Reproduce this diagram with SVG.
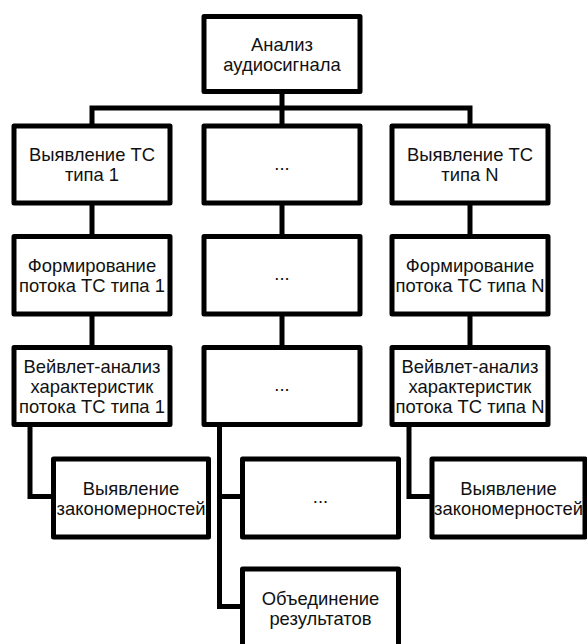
<svg xmlns="http://www.w3.org/2000/svg" width="587" height="644" viewBox="0 0 587 644">
<style>
.box{fill:#fff;stroke:#000;stroke-width:5;stroke-linejoin:round}
.conn{fill:none;stroke:#000;stroke-width:5;stroke-linejoin:miter}
text{font-family:"Liberation Sans",Arial,sans-serif;font-size:18.4px;fill:#111;text-anchor:middle}
</style>
<rect width="587" height="644" fill="#fff"/>
<g id="connectors">
<path class="conn" d="M282 92 V108 M92 126 V108 H470 V126 M282 108 V126"/>
<path class="conn" d="M92 203 V237 M282 203 V237 M470 203 V237"/>
<path class="conn" d="M92 314 V348 M282 314 V348 M470 314 V348"/>
<path class="conn" d="M30 424 V496.5 H54"/>
<path class="conn" d="M219.5 424 V606.5 H243 M219.5 496.5 H243"/>
<path class="conn" d="M409 424 V496.5 H432"/>
</g>
<g id="n_top"><rect class="box" x="204" y="16.5" width="156" height="75"/><text x="282" y="50.5">Анализ</text><text x="282" y="70.5">аудиосигнала</text></g>
<g id="n_r1_1"><rect class="box" x="14" y="126" width="156" height="77"/><text x="92" y="161">Выявление ТС</text><text x="92" y="181">типа 1</text></g>
<g id="n_r1_2"><rect class="box" x="204" y="126" width="156" height="77"/><text x="282" y="169.5">...</text></g>
<g id="n_r1_3"><rect class="box" x="392" y="126" width="156" height="77"/><text x="470" y="161">Выявление ТС</text><text x="470" y="181">типа N</text></g>
<g id="n_r2_1"><rect class="box" x="14" y="236.5" width="156" height="77.5"/><text x="92" y="272">Формирование</text><text x="92" y="292">потока ТС типа 1</text></g>
<g id="n_r2_2"><rect class="box" x="204" y="236.5" width="156" height="77.5"/><text x="282" y="280">...</text></g>
<g id="n_r2_3"><rect class="box" x="392" y="236.5" width="156" height="77.5"/><text x="470" y="272">Формирование</text><text x="470" y="292">потока ТС типа N</text></g>
<g id="n_r3_1"><rect class="box" x="14" y="347.5" width="156" height="77"/><text x="92" y="372.5">Вейвлет-анализ</text><text x="92" y="392.5">характеристик</text><text x="92" y="412.5">потока ТС типа 1</text></g>
<g id="n_r3_2"><rect class="box" x="204" y="347.5" width="156" height="77"/><text x="282" y="391">...</text></g>
<g id="n_r3_3"><rect class="box" x="392" y="347.5" width="156" height="77"/><text x="470" y="372.5">Вейвлет-анализ</text><text x="470" y="392.5">характеристик</text><text x="470" y="412.5">потока ТС типа N</text></g>
<g id="n_r4_1"><rect class="box" x="53.5" y="459" width="155" height="78"/><text x="131" y="494.5">Выявление</text><text x="131" y="514.5">закономерностей</text></g>
<g id="n_r4_2"><rect class="box" x="242.5" y="459" width="156" height="78"/><text x="320.5" y="503">...</text></g>
<g id="n_r4_3"><rect class="box" x="432" y="459" width="153" height="78"/><text x="508.5" y="494.5">Выявление</text><text x="508.5" y="514.5">закономерностей</text></g>
<g id="n_merge"><rect class="box" x="242.5" y="569" width="156" height="80"/><text x="320.5" y="605">Объединение</text><text x="320.5" y="625">результатов</text></g>
</svg>
